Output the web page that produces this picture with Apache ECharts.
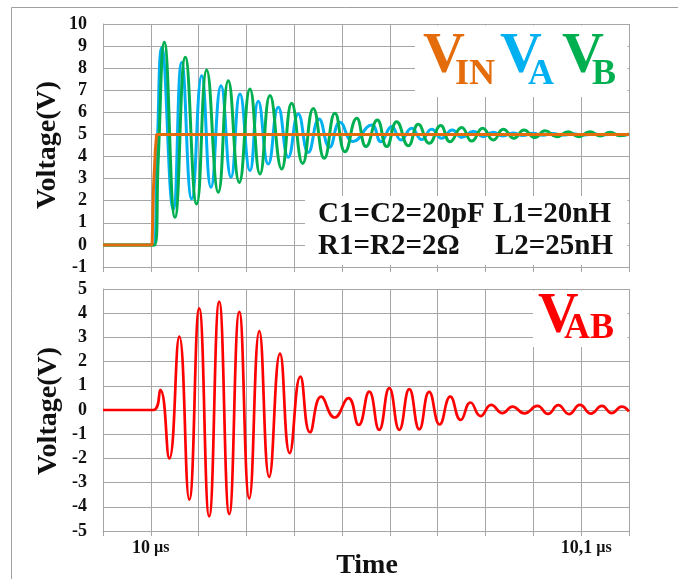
<!DOCTYPE html>
<html>
<head>
<meta charset="utf-8">
<script src="https://cdn.jsdelivr.net/npm/echarts@6/dist/echarts.min.js"></script>
<style>
html,body{margin:0;padding:0;background:#fff;}
#chart{width:678px;height:579px;}
</style>
</head>
<body>
<div id="chart"></div>
<script>
// time in ns after 10 µs, voltage in V
const vinData = [[-11.11,0],[0.3,0],[0.6,2.5],[0.9,3.7],[1.05,4.3],[1.35,5],[111.1,5]];

const vaData = [[-11.11,0],[0.6,0],[1.5,4.5],[2.53,8.94],[5.22,1.62],[7.17,8.26],[9.50,2.08],[11.82,7.66],[13.98,2.61],[16.31,7.21],[18.63,3.06],[20.72,6.83],[23.04,3.36],[24.97,6.5],[27.30,3.66],[29.62,6.23],[31.94,3.97],[34.27,5.93],[36.59,4.19],[39.08,5.7],[41.52,4.42],[43.96,5.55],[46.98,4.68],[51.32,5.43],[53.48,4.67],[55.97,5.36],[58.13,4.75],[60.61,5.28],[62.94,4.77],[65.26,5.23],[67.59,4.83],[70.05,5.2],[72.30,4.87],[74.93,5.15],[77.18,4.9],[79.51,5.1],[81.83,4.93],[84.15,5.07],[86.48,4.95],[88.80,5.05],[91.12,4.96],[93.45,5.04],[95.77,4.97],[98.09,5.03],[100.42,4.97],[102.74,5.03],[105.06,4.98],[107.38,5.02],[109.71,4.98],[111.1,5.0]];

const vbData = [[-11.11,0],[0.9,0],[1.74,3.97],[3.13,9.17],[5.62,1.25],[8.01,8.5],[10.66,1.85],[12.98,7.92],[15.68,2.38],[18.0,7.43],[20.56,2.83],[23.04,7.06],[25.37,3.21],[27.69,6.76],[30.41,3.44],[32.73,6.41],[35.29,3.69],[37.75,6.18],[40.31,3.92],[42.79,5.96],[45.12,4.22],[47.84,5.73],[50.0,4.45],[52.62,5.65],[54.81,4.45],[57.13,5.58],[59.83,4.49],[62.15,5.46],[64.70,4.6],[67.35,5.4],[69.51,4.67],[72.23,5.32],[74.56,4.7],[77.11,5.28],[79.58,4.75],[81.90,5.23],[84.38,4.83],[86.71,5.2],[89.26,4.86],[91.59,5.17],[94.31,4.9],[97.0,5.12],[99.33,4.9],[102.04,5.12],[104.37,4.93],[106.69,5.1],[109.01,4.94],[111.1,5.03]];

const vabData = [[-11.11,0],[0.58,0],[2.2,0.83],[4.29,-2.0],[6.62,3.03],[8.94,-3.7],[11.24,4.2],[13.56,-4.4],[15.89,4.48],[18.23,-4.3],[20.56,4.06],[22.88,-3.65],[25.21,3.26],[27.51,-2.76],[30.02,2.33],[32.27,-1.78],[34.75,1.38],[36.99,-0.92],[39.59,0.55],[42.70,-0.31],[45.93,0.49],[48.30,-0.62],[50.76,0.76],[53.06,-0.82],[55.41,0.9],[57.73,-0.82],[60.06,0.86],[62.38,-0.8],[64.68,0.75],[67.12,-0.6],[69.58,0.55],[72.0,-0.41],[74.28,0.31],[76.6,-0.25],[79.09,0.21],[81.71,-0.13],[84.04,0.14],[86.82,-0.14],[89.84,0.17],[92.28,-0.16],[94.68,0.2],[97.16,-0.17],[99.72,0.21],[102.27,-0.15],[104.83,0.17],[107.08,-0.13],[109.41,0.14],[111.1,-0.06]];

const xTickLabels = {0: '10', 100: '10,1'};
const xUnit = 'µs';
const topYRange = [-1, 10];
const botYRange = [-5, 5];

const SERIF = '"Liberation Serif","Times New Roman",serif';
const GRID = '#a6a6a6';
const ORANGE = '#E46C0A', BLUE = '#00B0F0', GREEN = '#00B050', RED = '#FF0000';
const STEP = 100 / 9;

function xAxisCfg(gridIndex, showLabels) {
  return {
    type: 'value', gridIndex: gridIndex,
    min: -STEP, max: 10 * STEP, interval: STEP,
    axisLine: {show: true, onZero: false, lineStyle: {color: GRID, width: 1}},
    axisTick: {show: true, length: 5, lineStyle: {color: GRID}},
    splitLine: {show: true, lineStyle: {color: GRID, width: 1}},
    axisLabel: {
      show: showLabels, margin: 8,
      formatter: function (v) {
        for (const k in xTickLabels) {
          if (Math.abs(v - Number(k)) < 0.5) {
            return (Number(k) > 50 ? '{p| }' : '') + '{a|' + xTickLabels[k] + '}{b| ' + xUnit + '}';
          }
        }
        return '';
      },
      rich: {
        a: {fontFamily: SERIF, fontWeight: 'bold', fontSize: 18, color: '#111'},
        b: {fontFamily: SERIF, fontWeight: 'bold', fontSize: 16, color: '#111'},
        p: {width: 10, fontSize: 15}
      }
    }
  };
}
function yAxisCfg(gridIndex, range) {
  return {
    type: 'value', gridIndex: gridIndex,
    min: range[0], max: range[1], interval: 1,
    axisLine: {show: true, onZero: false, lineStyle: {color: GRID, width: 1}},
    axisTick: {show: false},
    splitLine: {show: true, lineStyle: {color: GRID, width: 1}},
    axisLabel: {margin: 16, fontFamily: SERIF, fontWeight: 'bold', fontSize: 18, color: '#111'}
  };
}
function line(data, color, xi, z, smooth, width) {
  return {
    type: 'line', data: data, xAxisIndex: xi, yAxisIndex: xi,
    symbol: 'none', smooth: smooth, z: z, animation: false,
    lineStyle: {color: color, width: width}
  };
}
function txt(x, y, text, size, color, align, extra) {
  align = align || 'left';
  return Object.assign({
    type: 'text', x: x, y: y, z: 100,
    style: {
      text: text, fill: color,
      font: 'bold ' + size + 'px ' + SERIF,
      textAlign: align, textVerticalAlign: 'middle', align: align, verticalAlign: 'middle'
    }
  }, extra || {});
}
function box(x, y, w, h) {
  return {type: 'rect', z: 90, shape: {x: x, y: y, width: w, height: h}, style: {fill: '#fff', stroke: null}};
}

const chart = echarts.init(document.getElementById('chart'), null, {renderer: 'canvas'});
chart.setOption({
  animation: false,
  backgroundColor: '#fff',
  grid: [
    {left: 103, top: 24, width: 526, height: 243},
    {left: 103, top: 289, width: 526, height: 242}
  ],
  xAxis: [xAxisCfg(0, false), xAxisCfg(1, true)],
  yAxis: [yAxisCfg(0, topYRange), yAxisCfg(1, botYRange)],
  series: [
    line(vaData, BLUE, 0, 2, 0.5, 3),
    line(vbData, GREEN, 0, 3, 0.5, 3),
    line(vinData, ORANGE, 0, 4, false, 3),
    line(vabData, RED, 1, 3, 0.5, 2.7)
  ],
  graphic: [
    {type: 'rect', z: 95, shape: {x: 11.5, y: 7.5, width: 700, height: 600}, style: {fill: null, stroke: '#a0a0a0', lineWidth: 1}},
    box(415, 25.5, 212.5, 71.5),
    box(305, 196, 322.5, 69),
    box(533, 290.5, 94.5, 56.5),
    txt(423, 57, 'V', 58, ORANGE),
    txt(455, 74.5, 'IN', 36, ORANGE),
    txt(500, 57, 'V', 58, BLUE),
    txt(528, 74.5, 'A', 36, BLUE),
    txt(562, 57, 'V', 58, GREEN),
    txt(592, 74.5, 'B', 36, GREEN),
    txt(538, 317.5, 'V', 56, RED),
    txt(564, 328.5, 'AB', 36, RED),
    txt(318, 215, 'C1=C2=20pF', 29, '#111'),
    txt(493, 215, 'L1=20nH', 29, '#111'),
    txt(318, 247, 'R1=R2=2\u03A9', 29, '#111'),
    txt(495, 247, 'L2=25nH', 29, '#111'),
    txt(48, 145, 'Voltage(V)', 28, '#111', 'center', {rotation: Math.PI / 2}),
    txt(49, 411, 'Voltage(V)', 28, '#111', 'center', {rotation: Math.PI / 2}),
    txt(367, 566, 'Time', 28, '#111', 'center')
  ]
});
</script>
</body>
</html>
